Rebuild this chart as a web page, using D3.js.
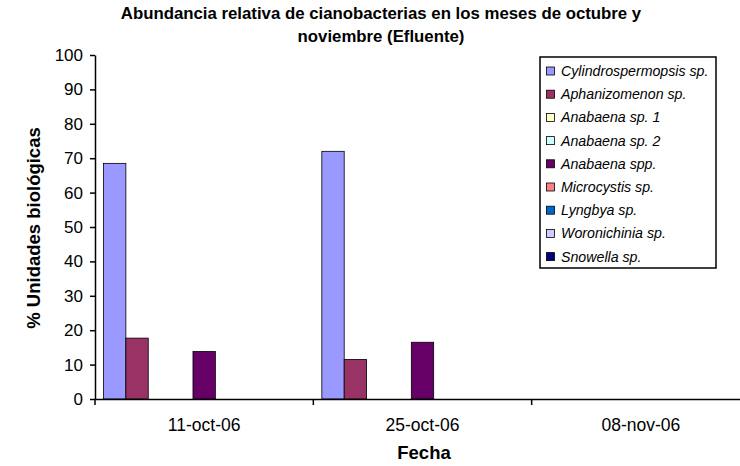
<!DOCTYPE html>
<html><head><meta charset="utf-8">
<script src="https://cdn.jsdelivr.net/npm/d3@7/dist/d3.min.js"></script>
<style>body{margin:0;background:#fff}svg{display:block;font-family:"Liberation Sans",Arial,sans-serif}</style>
</head><body><svg id="c" width="740" height="466"></svg>
<script>
const categories = ["11-oct-06", "25-oct-06", "08-nov-06"];
const seriesNames = ["Cylindrospermopsis sp.", "Aphanizomenon sp.", "Anabaena sp. 1", "Anabaena sp. 2", "Anabaena spp.", "Microcystis sp.", "Lyngbya sp.", "Woronichinia sp.", "Snowella sp."];
const seriesColors = ["#9999FF", "#993366", "#FFFFCC", "#CCFFFF", "#660066", "#FF8080", "#0066CC", "#CCCCFF", "#000080"];
const cylindrospermopsis = [68.5, 72, 0];
const aphanizomenon = [17.7, 11.5, 0];
const anabaena1 = [0, 0, 0];
const anabaena2 = [0, 0, 0];
const anabaenaSpp = [13.8, 16.5, 0];
const microcystis = [0, 0, 0];
const lyngbya = [0, 0, 0];
const woronichinia = [0, 0, 0];
const snowella = [0, 0, 0];
const yTicks = [0, 10, 20, 30, 40, 50, 60, 70, 80, 90, 100];
const seriesValues = [cylindrospermopsis, aphanizomenon, anabaena1, anabaena2, anabaenaSpp, microcystis, lyngbya, woronichinia, snowella];

(function () {
const svg = d3.select("#c");
const mLeft = 95, mBottom = 399, mTop = 55, mRight = 750;
const x = d3.scaleBand().domain(categories).range([mLeft, mRight]).paddingInner(0).paddingOuter(0);
const inner = d3.scaleBand().domain(d3.range(seriesNames.length)).range([0, x.bandwidth()]).paddingOuter(0.38).paddingInner(0);
const y = d3.scaleLinear().domain([0, 100]).range([mBottom, mTop]);

// bars
categories.forEach((c, ci) => {
  seriesValues.forEach((vals, si) => {
    const v = vals[ci];
    if (v <= 0) return;
    svg.append("rect")
      .attr("x", x(c) + inner(si))
      .attr("y", y(v))
      .attr("width", inner.bandwidth())
      .attr("height", y(0) - y(v))
      .attr("fill", seriesColors[si])
      .attr("stroke", "#000").attr("stroke-width", 0.8);
  });
});

// y axis
const yAxis = svg.append("g").attr("transform", `translate(${mLeft},0)`)
  .call(d3.axisLeft(y).tickValues(yTicks).tickSize(5).tickPadding(7).tickSizeOuter(0));
yAxis.select(".domain").attr("stroke", "#000").attr("stroke-width", 1.5);
yAxis.selectAll(".tick line").attr("stroke", "#000").attr("stroke-width", 1.5);
yAxis.selectAll("text").attr("font-size", 17).attr("fill", "#000").attr("font-family", "Liberation Sans, Arial");

// x axis
const xAxis = svg.append("g").attr("transform", `translate(0,${mBottom})`)
  .call(d3.axisBottom(x).tickSize(0).tickPadding(20).tickSizeOuter(0));
xAxis.select(".domain").attr("stroke", "#000").attr("stroke-width", 1.5);
xAxis.selectAll("text").attr("font-size", 17.5).attr("fill", "#000").attr("font-family", "Liberation Sans, Arial");
const boundaries = categories.map(c => x(c));
svg.selectAll(".xb").data(boundaries).enter().append("line")
  .attr("x1", d => d).attr("x2", d => d).attr("y1", mBottom).attr("y2", mBottom + 6)
  .attr("stroke", "#000").attr("stroke-width", 1.5);

// titles
svg.append("text").attr("x", 381).attr("y", 19).attr("text-anchor", "middle")
  .attr("font-weight", "bold").attr("font-size", 16.8).text("Abundancia relativa de cianobacterias en los meses de octubre y");
svg.append("text").attr("x", 381).attr("y", 42).attr("text-anchor", "middle")
  .attr("font-weight", "bold").attr("font-size", 16.8).text("noviembre (Efluente)");
svg.append("text").attr("x", 424).attr("y", 459).attr("text-anchor", "middle")
  .attr("font-weight", "bold").attr("font-size", 18.5).text("Fecha");
svg.append("text").attr("transform", "translate(40,228) rotate(-90)").attr("text-anchor", "middle")
  .attr("font-weight", "bold").attr("font-size", 18.5).text("% Unidades biológicas");

// legend
const lg = svg.append("g");
lg.append("rect").attr("x", 540).attr("y", 57).attr("width", 176).attr("height", 211)
  .attr("fill", "#fff").attr("stroke", "#000").attr("stroke-width", 1.5);
seriesNames.forEach((n, i) => {
  const cy = 71 + i * 23.2;
  lg.append("rect").attr("x", 546.5).attr("y", cy - 4).attr("width", 8).attr("height", 8)
    .attr("fill", seriesColors[i]).attr("stroke", "#000").attr("stroke-width", 0.8);
  lg.append("text").attr("x", 561).attr("y", cy + 5).attr("font-size", 14.2)
    .attr("font-style", "italic").text(n);
});
})();
</script></body></html>
